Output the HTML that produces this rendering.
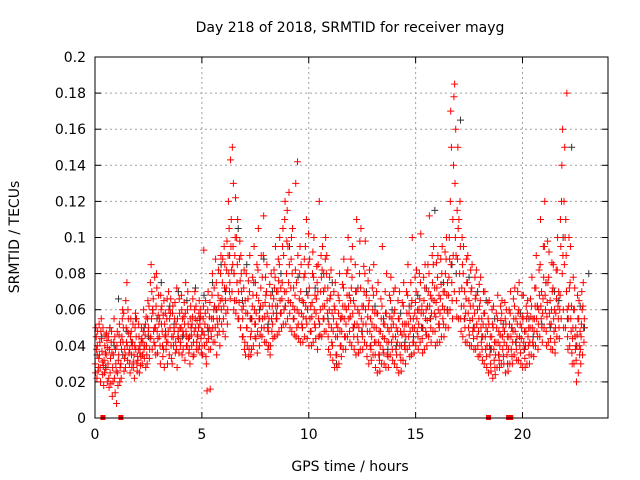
<!DOCTYPE html>
<html><head><meta charset="utf-8"><style>
html,body{margin:0;padding:0;background:#fff;}
svg{display:block;font-family:"DejaVu Sans","Liberation Sans",sans-serif;}
</style></head><body>
<svg id="chart" width="640" height="480">
<text x="350" y="32" text-anchor="middle" font-size="14">Day 218 of 2018, SRMTID for receiver mayg</text>
<text x="350" y="471" text-anchor="middle" font-size="14">GPS time / hours</text>
<text transform="translate(19,237) rotate(-90)" text-anchor="middle" font-size="14">SRMTID / TECUs</text>
<g id="grid"></g>
<g id="ticks"></g>
<g id="dark"></g>
<g id="red"></g>
<g id="marks"></g>
<rect x="95" y="57" width="513" height="361" fill="none" stroke="#000"/>
</svg>
<script>
const xTicks=[0,5,10,15,20];
const yTicks=[0,0.02,0.04,0.06,0.08,0.1,0.12,0.14,0.16,0.18,0.2];
const yTickLabels=["0","0.02","0.04","0.06","0.08","0.1","0.12","0.14","0.16","0.18","0.2"];
const redPoints=[
[0.0,30,45,25,38,50,22],[0.2,35,20,42,48,28,55],[0.4,18,40,32,46,25,36],[0.6,30,17,45,38,22,50],
[0.8,12,35,28,42,20,55],[1.0,8,25,40,18,48,32],[1.2,30,45,22,55,38,60],[1.4,35,50,28,42,65,75],
[1.6,30,45,38,55,25,48],[1.8,28,40,35,50,22,58],[2.0,32,45,38,25,52,40],[2.2,30,48,35,60,42,38],
[2.4,40,55,35,65,30,48],[2.6,45,70,85,38,55,60],[2.8,40,62,50,80,35,72],[3.0,45,30,55,68,40,60],
[3.2,38,52,65,45,28,58],[3.4,42,60,48,35,70,55],[3.6,30,45,58,40,62,50],[3.8,38,55,72,45,28,48],
[4.0,42,60,50,35,68,55],[4.2,32,48,58,40,75,45],[4.4,38,55,45,62,30,50],[4.6,42,60,35,70,48,55],
[4.8,45,58,38,65,50,40],[5.0,40,55,35,62,48,93],[5.2,30,50,42,60,15,70],[5.4,38,55,48,68,45,80],
[5.6,42,60,50,75,88,35],[5.8,48,65,55,80,40,90],[6.0,55,72,62,85,95,45],[6.2,60,80,90,105,120,70],
[6.4,70,95,150,130,85,60],[6.6,65,85,100,110,75,55],[6.8,50,70,90,60,80,45],[7.0,42,58,65,80,35,50],
[7.2,38,55,70,45,90,35],[7.4,40,60,75,52,95,45],[7.6,48,65,82,55,105,40],[7.8,45,62,78,90,55,112],
[8.0,42,58,70,50,85,38],[8.2,40,55,68,48,80,62],[8.4,45,62,78,55,95,70],[8.6,48,65,85,58,100,72],
[8.8,52,70,90,110,60,120],[9.0,55,75,95,125,65,85],[9.2,48,62,80,55,105,72],[9.4,45,60,75,142,50,90],
[9.6,42,58,70,52,85,65],[9.8,45,62,80,55,95,110],[10.0,40,55,72,48,88,62],[10.2,42,60,78,52,100,68],
[10.4,38,55,70,45,85,120],[10.6,45,62,82,55,95,70],[10.8,48,65,80,58,90,72],[11.0,35,50,68,42,82,58],
[11.2,28,45,60,35,75,52],[11.4,30,48,65,40,80,55],[11.6,38,55,72,45,88,62],[11.8,45,62,82,55,100,68],
[12.0,40,58,78,50,95,65],[12.2,35,52,70,45,110,60],[12.4,38,55,72,48,105,62],[12.6,42,60,80,52,98,68],
[12.8,30,48,65,40,82,55],[13.0,35,50,68,42,85,58],[13.2,25,42,58,35,75,48],[13.4,30,45,62,38,95,52],
[13.6,28,42,58,35,80,50],[13.8,35,50,65,42,78,55],[14.0,30,45,60,38,72,50],[14.2,25,40,55,35,70,48],
[14.4,32,48,62,40,75,52],[14.6,38,52,68,45,85,58],[14.8,35,50,65,42,100,55],[15.0,40,55,70,48,82,60],
[15.2,42,58,75,50,102,62],[15.4,38,55,72,48,85,60],[15.6,45,62,80,55,112,68],[15.8,48,65,85,58,95,72],
[16.0,42,60,78,52,90,68],[16.2,45,62,80,55,95,70],[16.4,50,68,88,60,100,75],[16.6,60,85,120,150,170,75],
[16.8,70,100,185,160,130,90],[17.0,55,80,110,120,70,95],[17.2,45,62,80,55,95,70],[17.4,42,58,75,50,90,65],
[17.6,40,55,72,48,85,62],[17.8,38,52,68,45,82,60],[18.0,35,50,65,42,78,55],[18.2,30,45,58,38,70,50],
[18.4,25,40,52,35,65,45],[18.6,22,38,50,32,62,42],[18.8,28,42,55,35,68,48],[19.0,30,45,58,38,65,50],
[19.2,25,40,52,35,60,45],[19.4,30,45,58,38,70,50],[19.6,35,48,62,42,72,55],[19.8,32,45,60,40,75,52],
[20.0,28,42,55,38,68,48],[20.2,30,45,58,40,65,50],[20.4,35,50,62,42,78,55],[20.6,40,55,72,48,90,62],
[20.8,45,62,85,55,110,70],[21.0,50,68,95,60,120,75],[21.2,42,58,78,52,92,65],[21.4,38,55,72,48,85,60],
[21.6,45,62,82,55,100,70],[21.8,55,80,120,160,140,90],[22.0,50,70,110,180,90,60],[22.2,40,55,75,48,95,62],
[22.4,30,45,60,38,72,50],[22.6,25,40,55,35,65,48],[22.8,35,50,62,42,75,55]
];
const redPoints2=[
[0.1,40,28,48,33,26,52],[0.3,44,24,37,50,31,29],[0.5,27,43,35,20,47,39],[0.7,25,42,33,48,19,36],
[0.9,22,38,45,30,14,26],[1.1,35,20,46,28,52,42],[1.3,42,26,50,33,58,38],[1.5,40,55,32,47,60,36],
[1.7,35,42,28,52,40,31],[1.9,38,30,45,26,55,34],[2.1,36,42,29,50,34,44],[2.3,33,52,40,28,46,56],
[2.5,50,38,62,44,33,75],[2.7,58,42,66,50,48,78],[2.9,48,57,36,68,44,52],[3.1,52,40,62,34,48,57],
[3.3,46,55,38,66,42,30],[3.5,50,40,58,33,66,45],[3.7,48,36,55,42,64,52],[3.9,44,58,36,50,66,40],
[4.1,48,56,38,64,46,52],[4.3,40,52,60,44,70,36],[4.5,46,56,40,66,52,34],[4.7,50,42,62,54,38,46],
[4.9,52,44,60,36,56,48],[5.1,46,58,40,65,52,34],[5.3,44,56,38,64,50,16],[5.5,50,60,42,72,55,62],
[5.7,55,68,46,82,52,62],[5.9,60,75,52,88,66,48],[6.1,65,82,58,98,72,52],[6.3,75,95,66,110,143,82],
[6.5,80,100,65,122,90,58],[6.7,70,88,55,98,64,76],[6.9,55,72,45,82,62,38],[7.1,50,66,40,76,58,34],
[7.3,48,62,38,78,55,68],[7.5,52,68,44,85,58,36],[7.7,55,72,46,90,62,50],[7.9,50,64,42,78,56,68],
[8.1,48,62,40,74,55,35],[8.3,52,66,44,82,58,72],[8.5,55,70,46,88,62,76],[8.7,58,75,50,95,66,105],
[8.9,62,80,52,98,70,115],[9.1,58,72,50,88,64,100],[9.3,55,68,46,82,60,130],[9.5,52,66,44,80,58,95],
[9.7,50,64,42,78,56,88],[9.9,52,68,44,85,60,102],[10.1,48,64,40,80,56,92],[10.3,50,66,44,84,58,75],
[10.5,52,70,46,90,60,78],[10.7,55,72,48,88,62,100],[10.9,45,60,38,78,52,66],[11.1,40,55,32,70,48,62],
[11.3,35,50,28,68,45,58],[11.5,40,56,34,74,48,62],[11.7,45,60,38,80,52,68],[11.9,48,65,42,88,56,72],
[12.1,45,62,38,85,52,70],[12.3,42,58,36,80,50,98],[12.5,45,62,38,84,52,70],[12.7,40,56,34,76,48,62],
[12.9,38,52,32,72,45,60],[13.1,35,50,28,70,42,58],[13.3,32,48,26,66,40,55],[13.5,36,52,30,70,44,58],
[13.7,34,48,28,68,42,56],[13.9,38,52,32,70,45,58],[14.1,35,48,28,65,42,55],[14.3,32,46,26,64,40,52],
[14.5,38,52,30,70,45,58],[14.7,40,55,34,75,48,62],[14.9,42,58,36,78,50,64],[15.1,45,60,38,80,52,66],
[15.3,44,58,36,78,50,65],[15.5,46,62,40,85,54,70],[15.7,50,66,42,90,58,75],[15.9,48,64,40,86,56,72],
[16.1,50,66,42,88,58,74],[16.3,52,70,45,92,60,80],[16.5,58,78,50,100,68,88],[16.7,65,90,55,140,110,178],
[16.9,65,88,56,150,115,105],[17.1,55,72,48,100,62,85],[17.3,50,66,42,88,58,75],[17.5,46,62,40,82,54,70],
[17.7,44,58,38,78,50,66],[17.9,40,55,34,74,48,62],[18.1,38,52,32,70,45,58],[18.3,34,48,28,64,40,55],
[18.5,30,45,26,60,38,52],[18.7,28,42,24,58,35,50],[18.9,32,46,28,62,40,54],[19.1,34,48,30,64,42,55],
[19.3,30,45,26,60,38,52],[19.5,34,48,30,66,42,55],[19.7,38,52,32,70,45,58],[19.9,36,50,30,68,44,56],
[20.1,33,48,28,62,40,55],[20.3,35,50,30,66,42,56],[20.5,40,55,34,72,48,62],[20.7,45,60,38,82,52,68],
[20.9,50,66,42,95,58,78],[21.1,48,64,40,98,56,75],[21.3,44,60,38,86,52,70],[21.5,42,58,36,82,50,66],
[21.7,50,68,44,110,60,95],[21.9,60,85,50,150,120,100],[22.1,45,62,38,100,55,72],[22.3,36,50,30,78,44,60],
[22.5,32,46,20,68,40,55],[22.7,38,52,30,70,45,60]
];
const darkPoints=[
[0.0,35,45],[0.4,28,50],[0.8,40,66],[1.2,35,48],[1.6,42,55],[2.0,38,50],[2.4,45,60],[2.8,55,75],
[3.2,48,62],[3.6,52,70],[4.0,45,65],[4.4,50,72],[4.8,55,68],[5.2,48,75],[5.6,60,85],[6.0,70,90],
[6.4,80,105],[6.8,65,85],[7.2,55,75],[7.6,60,88],[8.0,52,70],[8.4,58,80],[8.8,62,95],[9.2,55,78],
[9.6,50,70],[10.0,48,72],[10.4,52,80],[10.8,55,75],[11.2,30,55],[11.6,45,68],[12.0,50,72],[12.4,48,70],
[12.8,40,62],[13.2,35,55],[13.6,38,60],[14.0,40,58],[14.4,42,62],[14.8,45,68],[15.2,50,72],[15.6,55,115],
[16.0,52,75],[16.4,60,85],[16.8,80,165],[17.2,55,78],[17.6,50,70],[18.0,45,65],[18.4,38,55],[18.8,35,52],
[19.2,30,50],[19.6,42,58],[20.0,38,55],[20.4,45,62],[20.8,52,75],[21.2,50,70],[21.6,65,100],[22.0,55,150],
[22.4,40,62],[22.8,50,80]
];
const markerHours=[0.37,1.21,18.41,19.35,19.45];

const X0=95,X1=608,Y0=418,Y1=57,XMAX=24,YMAX=0.2;
function xs(h){return X0+(X1-X0)*h/XMAX;}
function ys(v){return Y0-(Y0-Y1)*v/YMAX;}
const NS="http://www.w3.org/2000/svg";
function mk(tag,attrs,parent){const e=document.createElementNS(NS,tag);for(const k in attrs)e.setAttribute(k,attrs[k]);parent.appendChild(e);return e;}
const grid=document.getElementById('grid'),ticks=document.getElementById('ticks');
xTicks.forEach(t=>{
  const x=xs(t);
  if(t>0){const g=mk('line',{x1:x,x2:x,y1:Y1,y2:Y0,stroke:'#a0a0a0','stroke-dasharray':'2,3'},grid);
  
  }
  mk('line',{x1:x,x2:x,y1:Y0,y2:Y0-6,stroke:'#000'},ticks);
  mk('line',{x1:x,x2:x,y1:Y1,y2:Y1+6,stroke:'#000'},ticks);
  const l=mk('text',{x:x,y:Y0+21,'text-anchor':'middle','font-size':14},ticks);l.textContent=t;
  
  
});
yTicks.forEach((t,i)=>{
  const y=ys(t);
  if(i>0&&i<yTicks.length-1){const g=mk('line',{x1:X0,x2:X1,y1:y,y2:y,stroke:'#a0a0a0','stroke-dasharray':'2,3'},grid);
  
  }
  mk('line',{x1:X0,x2:X0+6,y1:y,y2:y,stroke:'#000'},ticks);
  mk('line',{x1:X1,x2:X1-6,y1:y,y2:y,stroke:'#000'},ticks);
  const l=mk('text',{x:X0-9,y:y+5,'text-anchor':'end','font-size':14},ticks);l.textContent=yTickLabels[i];
  
  
});
function plus(g,h,v,color,name){
  const x=xs(h),y=ys(v);
  const p=mk('path',{d:`M${x-3.5},${y}H${x+3.5}M${x},${y-3.5}V${y+3.5}`,stroke:color,'stroke-width':1,fill:'none'},g);
  
  
}
const order=[0,3,1,4,2,5];
function drawSeries(rows,gid,color,name,span){
  const g=document.getElementById(gid);
  rows.forEach(r=>{const n=r.length-1;for(let k=1;k<=n;k++){const o=n===6?order[k-1]:k-1;plus(g,r[0]+span*(o+0.5)/n,r[k]/1000,color,name);}});
}
drawSeries(darkPoints,'dark','#333333','dark-point',0.4);
drawSeries(redPoints,'red','#ff0000','red-point',0.1);
drawSeries(redPoints2,'red','#ff0000','red-point',0.1);
const marks=document.getElementById('marks');
markerHours.forEach(h=>{const r=mk('rect',{x:xs(h)-2.5,y:Y0-3,width:5,height:5,fill:'#ff0000'},marks);

});
</script>
</body></html>
